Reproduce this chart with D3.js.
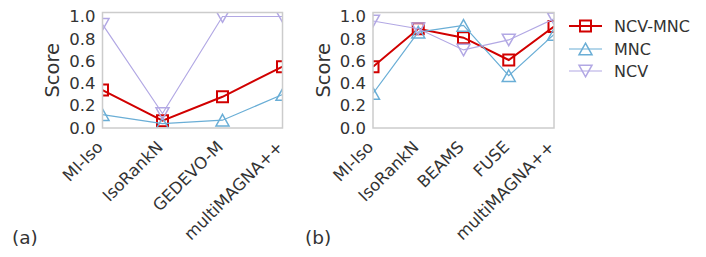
<!DOCTYPE html>
<html>
<head>
<meta charset="utf-8">
<script src="https://cdn.jsdelivr.net/npm/d3@7"></script>
<style>
  body { margin: 0; background: #fff; }
  text { font-family: "DejaVu Sans", sans-serif; fill: #333; }
</style>
</head>
<body>
<div id="chart"></div>
<script>
// categories per panel
var catsA = ["MI-Iso", "IsoRankN", "GEDEVO-M", "multiMAGNA++"];
var catsB = ["MI-Iso", "IsoRankN", "BEAMS", "FUSE", "multiMAGNA++"];

// panel (a) scores
var ncvMncA = [0.34, 0.065, 0.28, 0.55];
var mncA    = [0.12, 0.04, 0.07, 0.30];
var ncvA    = [0.93, 0.13, 1.0, 1.0];

// panel (b) scores
var ncvMncB = [0.55, 0.89, 0.81, 0.61, 0.91];
var mncB    = [0.31, 0.86, 0.92, 0.47, 0.84];
var ncvB    = [0.96, 0.89, 0.70, 0.79, 0.98];

var yTicks = [0, 0.2, 0.4, 0.6, 0.8, 1.0];
var seriesNames = ["NCV-MNC", "MNC", "NCV"];

var width = 706, height = 257;
var FONT = "'DejaVu Sans', sans-serif";

var svg = d3.select("#chart").append("svg")
  .attr("width", width)
  .attr("height", height);

var styles = {
  "NCV-MNC": {color: "#d10000", lw: 2, marker: "square"},
  "MNC":     {color: "#6aaed6", lw: 1.2, marker: "up"},
  "NCV":     {color: "#b2a8e4", lw: 1.2, marker: "down"}
};

function markerPath(kind) {
  if (kind === "square") return "M-5.5,-5.5H5.5V5.5H-5.5Z";
  if (kind === "up") return "M0,-5.8L6.5,5.8L-6.5,5.8Z";
  return "M0,5.8L6.5,-5.8L-6.5,-5.8Z";
}

function panel(id, left, right, cats, data, tag, tagX) {
  var top = 12.5, bottom = 128;
  var x = d3.scalePoint().domain(cats).range([left, right]);
  var y = d3.scaleLinear().domain([0, 1.036]).range([bottom, top]);

  var g = svg.append("g").attr("id", id);

  g.append("clipPath").attr("id", "clip-" + id)
    .append("rect")
    .attr("x", left).attr("y", top)
    .attr("width", right - left).attr("height", bottom - top);

  var yAxis = d3.axisLeft(y).tickValues(yTicks).tickFormat(d3.format(".1f")).tickSize(0).tickPadding(7);
  var ya = g.append("g").attr("transform", "translate(" + left + ",0)").call(yAxis);
  ya.select(".domain").remove();
  ya.selectAll("text")
    .style("font-family", FONT)
    .style("font-size", "16.5px")
    .attr("fill", "#333");

  var xAxis = d3.axisBottom(x).tickSize(0).tickPadding(0);
  var xa = g.append("g").attr("transform", "translate(0," + bottom + ")").call(xAxis);
  xa.select(".domain").remove();
  xa.selectAll("text")
    .style("font-family", FONT)
    .style("font-size", "16.5px")
    .attr("fill", "#333")
    .attr("text-anchor", "end")
    .attr("y", 0).attr("dy", 0)
    .attr("transform", "translate(1,20) rotate(-45)");

  g.append("text")
    .attr("transform", "translate(" + (left - 50) + "," + ((top + bottom) / 2) + ") rotate(-90)")
    .attr("text-anchor", "middle")
    .attr("dy", "0.35em")
    .style("font-family", FONT)
    .style("font-size", "19.5px")
    .text("Score");

  var plot = g.append("g").attr("clip-path", "url(#clip-" + id + ")");

  var line = d3.line()
    .x(function(d, i) { return x(cats[i]); })
    .y(function(d) { return y(d); });

  data.forEach(function(vals, k) {
    var s = styles[seriesNames[k]];
    plot.append("path")
      .datum(vals)
      .attr("fill", "none")
      .attr("stroke", s.color)
      .attr("stroke-width", s.lw)
      .attr("d", line);
    plot.selectAll(".m" + k)
      .data(vals)
      .enter().append("path")
      .attr("class", "m" + k)
      .attr("transform", function(d, i) { return "translate(" + x(cats[i]) + "," + y(d) + ")"; })
      .attr("d", markerPath(s.marker))
      .attr("fill", "none")
      .attr("stroke", s.color)
      .attr("stroke-width", s.marker === "square" ? 2 : 1.5);
  });

  g.append("rect")
    .attr("x", left).attr("y", top)
    .attr("width", right - left).attr("height", bottom - top)
    .attr("fill", "none")
    .attr("stroke", "#cccccc")
    .attr("stroke-width", 1.5);

  svg.append("text")
    .attr("x", tagX).attr("y", 244)
    .style("font-family", FONT)
    .style("font-size", "18.5px")
    .text(tag);
}

panel("pa", 102.5, 282.5, catsA, [ncvMncA, mncA, ncvA], "(a)", 12);
panel("pb", 373, 554, catsB, [ncvMncB, mncB, ncvB], "(b)", 305);

// legend
var legend = svg.append("g").attr("transform", "translate(569,0)");
var legY = [26, 49, 71];
seriesNames.forEach(function(name, i) {
  var s = styles[name];
  var row = legend.append("g").attr("transform", "translate(0," + legY[i] + ")");
  row.append("line")
    .attr("x1", 0).attr("x2", 33)
    .attr("stroke", s.color).attr("stroke-width", s.lw);
  row.append("path")
    .attr("transform", "translate(16.5,0)")
    .attr("d", markerPath(s.marker))
    .attr("fill", "none")
    .attr("stroke", s.color)
    .attr("stroke-width", s.marker === "square" ? 2 : 1.5);
  row.append("text")
    .attr("x", 45).attr("dy", "0.35em")
    .style("font-family", FONT)
    .style("font-size", "16px")
    .text(name);
});
</script>
</body>
</html>
